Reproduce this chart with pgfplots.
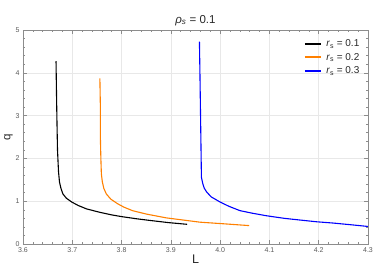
\documentclass[border=0pt]{standalone}
\usepackage{pgfplots}
\pgfplotsset{compat=1.18}
\usepackage{fontspec}
\setmainfont{Liberation Sans}
\definecolor{mblue}{RGB}{0,0,255}
\definecolor{morange}{RGB}{255,128,0}
\definecolor{fgray}{RGB}{140,140,140}
\definecolor{tgray}{RGB}{90,90,90}
\definecolor{dgray}{RGB}{40,40,40}
\begin{document}
\begin{tikzpicture}
\begin{axis}[
  at={(0,0)}, anchor=south west,
  scale only axis, width=345pt, height=214pt,
  xmin=3.6, xmax=4.3, ymin=0, ymax=5,
  xtick={3.6,3.7,3.8,3.9,4.0,4.1,4.2,4.3},
  ytick={0,1,2,3,4,5},
  minor x tick num=4, minor y tick num=4,
  xticklabel style={/pgf/number format/.cd, fixed, fixed zerofill, precision=1},
  /pgf/number format/assume math mode=true,
  tick label style={font=\fontsize{7}{8}\selectfont, text=tgray},
  axis line style={fgray, line width=0.6pt},
  tick style={fgray, line width=0.5pt},
  major tick length=4pt, minor tick length=2pt,
  tick align=inside,
  grid=major, major grid style={gray!18, line width=0.5pt},
  xlabel={L}, ylabel={q},
  xlabel style={font=\fontsize{12.5}{13}\selectfont, text=dgray, yshift=4pt},
  ylabel style={font=\fontsize{11.5}{12}\selectfont, text=dgray, yshift=-4pt},
  title={\textit{ρ}\textsubscript{\textit{s}} = 0.1},
  title style={font=\fontsize{11.5}{12}\selectfont, text=dgray, yshift=-5pt},
  legend style={draw=none, fill=none, at={(0.99,0.975)}, anchor=north east,
    font=\fontsize{10}{11}\selectfont, row sep=1pt, text=dgray},
  legend cell align=left,
  legend image code/.code={\draw[#1, line width=1.7pt] (0cm,0cm) -- (0.55cm,0cm);},
  every axis plot/.append style={line width=1.1pt, no marks},
]
\addplot[black] coordinates {
(3.667,4.27) (3.668,3.5) (3.669,2.8) (3.670,2.2) (3.672,1.70) (3.674,1.45) (3.677,1.30)
(3.681,1.17) (3.688,1.07) (3.699,0.98) (3.712,0.90) (3.729,0.82) (3.756,0.74) (3.780,0.68)
(3.800,0.64) (3.830,0.59) (3.858,0.55) (3.895,0.50) (3.933,0.46)};
\addlegendentry{\hspace{3pt}\textit{r}\textsubscript{s} = 0.1}
\addplot[morange] coordinates {
(3.756,3.87) (3.757,3.2) (3.757,2.5) (3.758,2.0) (3.759,1.64) (3.761,1.45) (3.764,1.30)
(3.769,1.17) (3.778,1.05) (3.792,0.94) (3.805,0.86) (3.822,0.78) (3.850,0.70) (3.891,0.61)
(3.925,0.56) (3.959,0.51) (4.010,0.47) (4.059,0.43)};
\addlegendentry{\hspace{3pt}\textit{r}\textsubscript{s} = 0.2}
\addplot[mblue] coordinates {
(3.958,4.73) (3.959,4.0) (3.960,3.2) (3.961,2.4) (3.962,1.56) (3.965,1.40) (3.968,1.30)
(3.973,1.21) (3.982,1.10) (4.000,0.98) (4.018,0.88) (4.040,0.78) (4.065,0.72) (4.094,0.66)
(4.130,0.60) (4.162,0.56) (4.195,0.52) (4.229,0.49) (4.265,0.45) (4.300,0.41)};
\addlegendentry{\hspace{3pt}\textit{r}\textsubscript{s} = 0.3}
\end{axis}
\pgfresetboundingbox
\path (-23pt,-30pt) rectangle (352pt,244pt);
\end{tikzpicture}
\end{document}
